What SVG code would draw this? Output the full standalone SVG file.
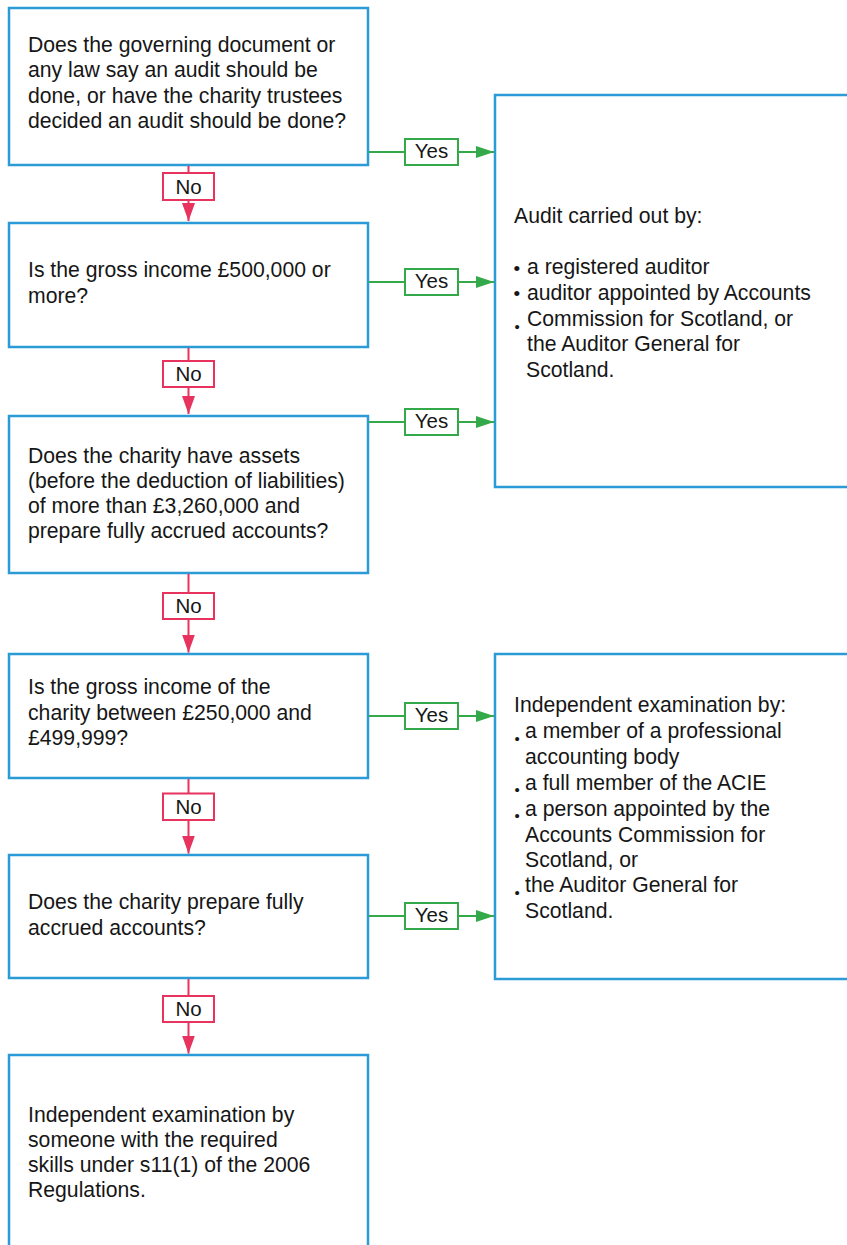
<svg xmlns="http://www.w3.org/2000/svg" width="847" height="1245" viewBox="0 0 847 1245">
  <defs>
    <style>
      .box { fill: #ffffff; stroke: #2a9bd6; stroke-width: 2.5; }
      .t { font-family: "Liberation Sans", Arial, Helvetica, sans-serif; font-size: 21.2px; fill: #161616; }
      .b { font-family: "Liberation Sans", Arial, Helvetica, sans-serif; font-size: 15px; fill: #161616; }
      .bm { font-family: "Liberation Sans", Arial, Helvetica, sans-serif; font-size: 19px; fill: #161616; }
      .no-line { stroke: #e7335e; stroke-width: 2; fill: none; }
      .no-lab { fill: #ffffff; stroke: #e7335e; stroke-width: 2; }
      .yes-line { stroke: #33a949; stroke-width: 2; fill: none; }
      .yes-lab { fill: #ffffff; stroke: #33a949; stroke-width: 2; }
      .lab { font-family: "Liberation Sans", Arial, Helvetica, sans-serif; font-size: 20.5px; fill: #161616; text-anchor: middle; }
    </style>
    <marker id="arrPink" viewBox="0 0 18 13" refX="18" refY="6.5" markerWidth="18" markerHeight="13" markerUnits="userSpaceOnUse" orient="auto">
      <path d="M0,0 L18,6.5 L0,13 z" fill="#e7335e"/>
    </marker>
    <marker id="arrGreen" viewBox="0 0 18 12" refX="18" refY="6" markerWidth="18" markerHeight="12" markerUnits="userSpaceOnUse" orient="auto">
      <path d="M0,0 L18,6 L0,12 z" fill="#33a949"/>
    </marker>
  </defs>

  <g id="q1">
    <rect class="box" x="9" y="8" width="359" height="157"/>
    <text class="t" x="28" y="52">Does the governing document or</text>
    <text class="t" x="28" y="77.3">any law say an audit should be</text>
    <text class="t" x="28" y="102.6">done, or have the charity trustees</text>
    <text class="t" x="28" y="128">decided an audit should be done?</text>
  </g>

  <g id="q2">
    <rect class="box" x="9" y="223" width="359" height="124"/>
    <text class="t" x="28" y="277">Is the gross income £500,000 or</text>
    <text class="t" x="28" y="302.5">more?</text>
  </g>

  <g id="q3">
    <rect class="box" x="9" y="416" width="359" height="157"/>
    <text class="t" x="28" y="462.7">Does the charity have assets</text>
    <text class="t" x="28" y="488">(before the deduction of liabilities)</text>
    <text class="t" x="28" y="513.2">of more than £3,260,000 and</text>
    <text class="t" x="28" y="538.4">prepare fully accrued accounts?</text>
  </g>

  <g id="q4">
    <rect class="box" x="9" y="654" width="359" height="124"/>
    <text class="t" x="28" y="694.3">Is the gross income of the</text>
    <text class="t" x="28" y="719.8">charity between £250,000 and</text>
    <text class="t" x="28" y="745.2">£499,999?</text>
  </g>

  <g id="q5">
    <rect class="box" x="9" y="855" width="359" height="123"/>
    <text class="t" x="28" y="909.3">Does the charity prepare fully</text>
    <text class="t" x="28" y="935">accrued accounts?</text>
  </g>

  <g id="r-exam-s11">
    <path class="box" d="M9,1250 V1055 H368 V1250"/>
    <text class="t" x="28" y="1121.7">Independent examination by</text>
    <text class="t" x="28" y="1146.9">someone with the required</text>
    <text class="t" x="28" y="1172.2">skills under s11(1) of the 2006</text>
    <text class="t" x="28" y="1197.4">Regulations.</text>
  </g>

  <g id="r-audit">
    <rect class="box" x="495" y="95" width="380" height="392"/>
    <text class="t" x="514" y="223.3">Audit carried out by:</text>
    <text class="bm" x="513.5" y="274.5">•</text>
    <text class="t" x="527" y="274.3">a registered auditor</text>
    <text class="bm" x="513.5" y="300.2">•</text>
    <text class="t" x="527" y="300">auditor appointed by Accounts</text>
    <text class="b" x="514.5" y="331.5">•</text>
    <text class="t" x="527" y="325.7">Commission for Scotland, or</text>
    <text class="t" x="527" y="351.4">the Auditor General for</text>
    <text class="t" x="526" y="377">Scotland.</text>
  </g>

  <g id="r-exam-prof">
    <rect class="box" x="495" y="654" width="380" height="325"/>
    <text class="t" x="514" y="711.7">Independent examination by:</text>
    <text class="b" x="514.5" y="743.5">•</text>
    <text class="t" x="525" y="738.3">a member of a professional</text>
    <text class="t" x="525" y="764.2">accounting body</text>
    <text class="b" x="514.5" y="795.2">•</text>
    <text class="t" x="525" y="790">a full member of the ACIE</text>
    <text class="b" x="514.5" y="821">•</text>
    <text class="t" x="525" y="815.8">a person appointed by the</text>
    <text class="t" x="525" y="841.5">Accounts Commission for</text>
    <text class="t" x="525" y="867">Scotland, or</text>
    <text class="b" x="514.5" y="897.6">•</text>
    <text class="t" x="525" y="892.4">the Auditor General for</text>
    <text class="t" x="525" y="918.2">Scotland.</text>
  </g>

  <g id="connectors">
    <line class="no-line" x1="188.5" y1="166" x2="188.5" y2="221" marker-end="url(#arrPink)"/>
    <rect class="no-lab" x="163" y="173" width="51" height="27"/>
    <text class="lab" x="188.5" y="193.6">No</text>

    <line class="no-line" x1="188.5" y1="348" x2="188.5" y2="414" marker-end="url(#arrPink)"/>
    <rect class="no-lab" x="163" y="361" width="51" height="26"/>
    <text class="lab" x="188.5" y="381">No</text>

    <line class="no-line" x1="188.5" y1="574" x2="188.5" y2="652.5" marker-end="url(#arrPink)"/>
    <rect class="no-lab" x="163" y="593" width="51" height="26"/>
    <text class="lab" x="188.5" y="613">No</text>

    <line class="no-line" x1="188.5" y1="779" x2="188.5" y2="853.5" marker-end="url(#arrPink)"/>
    <rect class="no-lab" x="163" y="793.5" width="51" height="26.5"/>
    <text class="lab" x="188.5" y="813.8">No</text>

    <line class="no-line" x1="188.5" y1="979" x2="188.5" y2="1053.5" marker-end="url(#arrPink)"/>
    <rect class="no-lab" x="163" y="996" width="51" height="26"/>
    <text class="lab" x="188.5" y="1016">No</text>

    <line class="yes-line" x1="369" y1="152" x2="494" y2="152" marker-end="url(#arrGreen)"/>
    <rect class="yes-lab" x="405" y="139" width="53" height="26"/>
    <text class="lab" x="431.5" y="157.8">Yes</text>

    <line class="yes-line" x1="369" y1="282" x2="494" y2="282" marker-end="url(#arrGreen)"/>
    <rect class="yes-lab" x="405" y="269" width="53" height="26"/>
    <text class="lab" x="431.5" y="287.8">Yes</text>

    <line class="yes-line" x1="369" y1="422" x2="494" y2="422" marker-end="url(#arrGreen)"/>
    <rect class="yes-lab" x="405" y="409" width="53" height="26"/>
    <text class="lab" x="431.5" y="427.8">Yes</text>

    <line class="yes-line" x1="369" y1="716" x2="494" y2="716" marker-end="url(#arrGreen)"/>
    <rect class="yes-lab" x="405" y="703" width="53" height="26"/>
    <text class="lab" x="431.5" y="721.8">Yes</text>

    <line class="yes-line" x1="369" y1="916" x2="494" y2="916" marker-end="url(#arrGreen)"/>
    <rect class="yes-lab" x="405" y="903" width="53" height="26"/>
    <text class="lab" x="431.5" y="921.8">Yes</text>
  </g>
</svg>
